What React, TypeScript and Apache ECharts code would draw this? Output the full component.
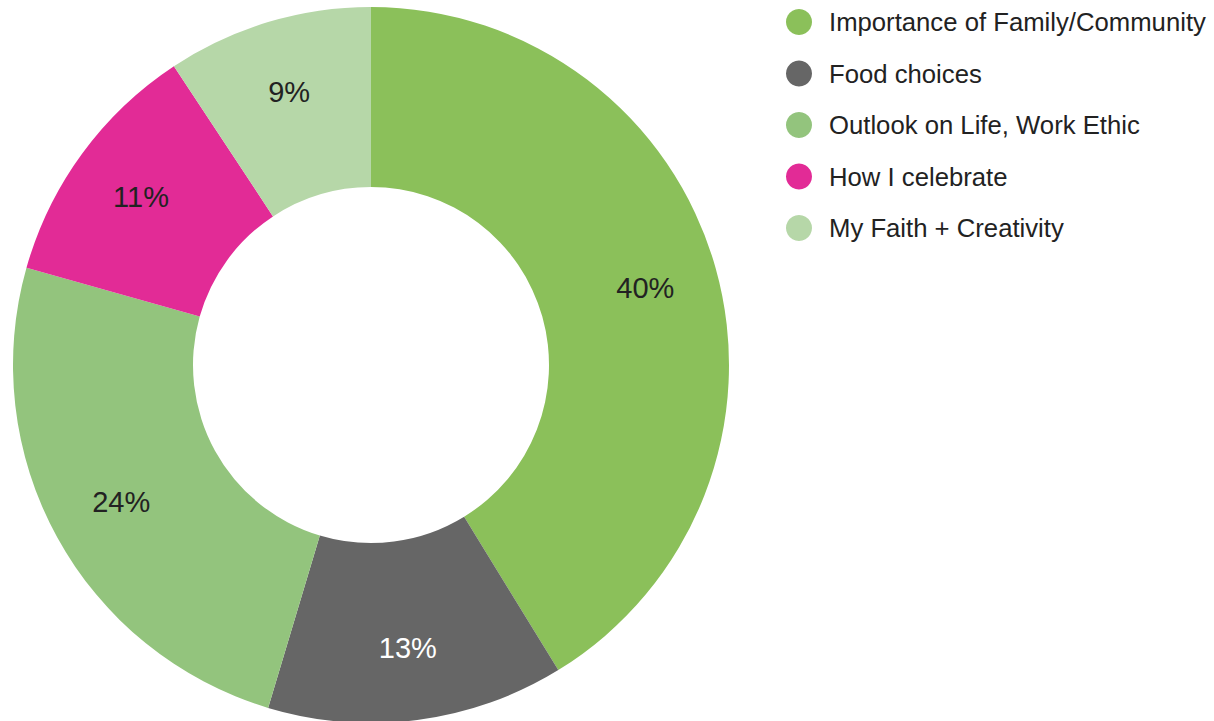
import React, { useEffect, useRef } from "react";
import * as echarts from "echarts";

const categories = [
  "Importance of Family/Community",
  "Food choices",
  "Outlook on Life, Work Ethic",
  "How I celebrate",
  "My Faith + Creativity",
];
const values = [40, 13, 24, 11, 9];
const colors = ["#8bc05a", "#666666", "#93c47d", "#e22b96", "#b6d7a8"];
const labelColors = ["#222222", "#ffffff", "#222222", "#222222", "#222222"];

export default function App() {
  const ref = useRef<HTMLDivElement>(null);
  useEffect(() => {
    if (!ref.current) return;
    const chart = echarts.init(ref.current, null, { renderer: "svg" });
    const font = "'Liberation Sans', Arial, sans-serif";
    chart.setOption({
      animation: false,
      backgroundColor: "#ffffff",
      legend: {
        orient: "vertical",
        left: 786,
        top: 9,
        padding: 0,
        icon: "circle",
        itemWidth: 26,
        itemHeight: 26,
        itemGap: 25.5,
        textStyle: {
          fontSize: 25.7,
          color: "#222222",
          fontFamily: font,
          padding: [0, 0, 0, 12],
        },
        data: categories,
      },
      series: [
        {
          type: "pie",
          center: [371, 365],
          radius: [178, 358],
          startAngle: 90,
          clockwise: true,
          avoidLabelOverlap: false,
          label: { show: false },
          labelLine: { show: false },
          emphasis: { disabled: true },
          data: categories.map((name, i) => ({
            name,
            value: values[i],
            itemStyle: { color: colors[i] },
          })),
        },
        {
          type: "pie",
          center: [371, 365],
          radius: [194, 370],
          startAngle: 90,
          clockwise: true,
          silent: true,
          legendHoverLink: false,
          avoidLabelOverlap: false,
          itemStyle: { color: "rgba(0,0,0,0)" },
          label: {
            show: true,
            position: "inside",
            fontSize: 29,
            fontFamily: font,
            formatter: (p: any) => p.value + "%",
          },
          labelLine: { show: false },
          emphasis: { disabled: true },
          data: categories.map((name, i) => ({
            name,
            value: values[i],
            itemStyle: { color: "rgba(0,0,0,0)" },
            label: { color: labelColors[i] },
          })),
        },
      ],
    });
    return () => chart.dispose();
  }, []);
  return (
    <div
      ref={ref}
      style={{ position: "fixed", left: 0, top: 0, width: 1214, height: 721 }}
    />
  );
}
